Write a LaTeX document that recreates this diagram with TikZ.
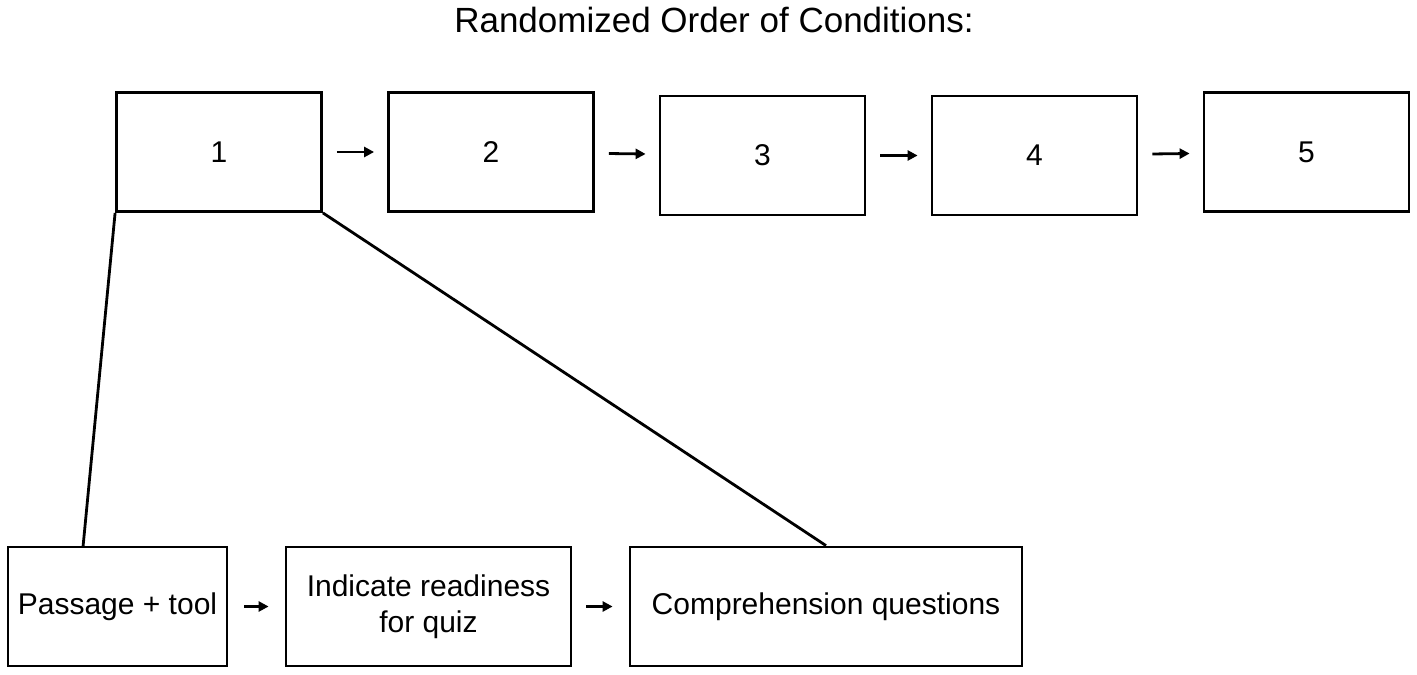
\documentclass[tikz,border=0pt]{standalone}
\usepackage{fontspec}
\setmainfont{Liberation Sans}
\usetikzlibrary{arrows.meta}

\begin{document}
\begin{tikzpicture}[x=0.5pt,y=-0.5pt,font=\fontsize{15}{18}\selectfont]
	\tikzset{box/.style={draw,line width=1.4pt,minimum height=59.5pt,inner sep=0pt,align=center},
		cond/.style={box,minimum width=102.5pt},
		step arrow/.style={-{Triangle[length=5pt,width=5pt]},line width=1.4pt,shorten >=6.5pt,shorten <=7pt},
		zoomline/.style={line width=1.4pt}}
	\useasboundingbox (0,0) rectangle (1417,674);
	\node[font=\fontsize{17.5}{21}\selectfont] (title) at (714,20) {Randomized Order of Conditions:};
	% conditions
	\node[cond] (1) at (219,152) {1};
	\node[cond] (2) at (491,152) {2};
	\node[cond] (3) at (762.5,155.5) {3};
	\node[cond] (4) at (1034.5,155.5) {4};
	\node[cond] (5) at (1306.5,152) {5};
	% inside condition 1
	\node[box,minimum width=109.5pt] (passage) at (117.5,606.5) {Passage + tool};
	\node[box,minimum width=142.5pt] (ready) at (428.5,606.5) {Indicate readiness\\for quiz};
	\node[box,minimum width=196pt] (quiz) at (826,606.5) {Comprehension questions};
	\coordinate (p) at (83,547);
	\draw[step arrow] (1) -- (2);
	\draw[step arrow] (2) -- (3);
	\draw[step arrow] (3) -- (4);
	\draw[step arrow] (4) -- (5);
	\draw[step arrow,shorten <=8pt,shorten >=8pt] (passage) -- (ready);
	\draw[step arrow,shorten >=8pt] (ready) -- (quiz);
	\draw[zoomline] (1.south west) -- (p);
	\draw[zoomline] (1.south east) -- (quiz.north);
\end{tikzpicture}
\end{document}
